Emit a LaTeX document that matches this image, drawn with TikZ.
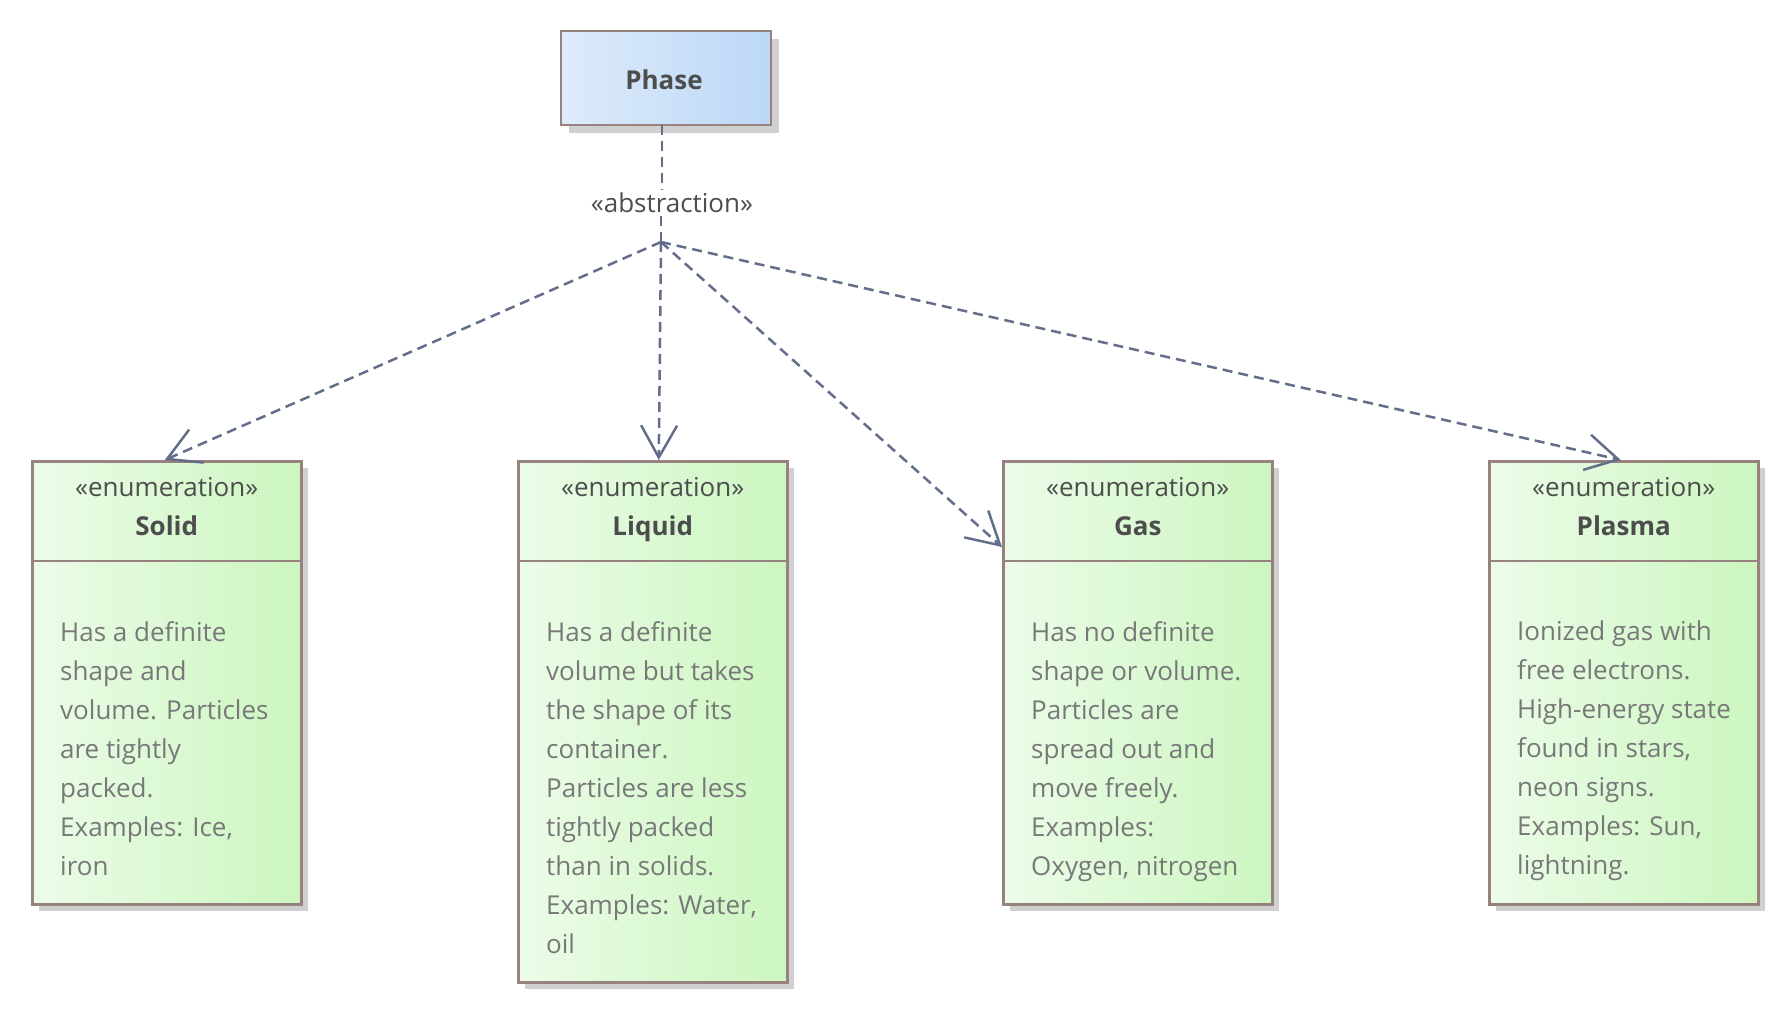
\documentclass[tikz,border=0pt]{standalone}
\usepackage{fontspec}
\setmainfont{Open Sans}
\usetikzlibrary{arrows.meta,calc}
\definecolor{edgec}{RGB}{152,130,128}
\definecolor{linec}{RGB}{100,110,138}
\definecolor{shadowc}{RGB}{208,208,208}
\definecolor{gleft}{RGB}{236,252,232}
\definecolor{gright}{RGB}{204,246,192}
\definecolor{bleft}{RGB}{222,235,251}
\definecolor{bright}{RGB}{188,216,246}
\definecolor{hdtext}{RGB}{77,77,77}
\definecolor{bodytext}{RGB}{120,120,120}
\tikzset{
  shadowbox/.style={fill=shadowc, draw=none},
  enumbox/.style={draw=edgec, line width=2.5pt, left color=gleft, right color=gright, minimum width=269pt, inner sep=0pt, anchor=north west},
  phasebox/.style={draw=edgec, line width=2.5pt, left color=bleft, right color=bright, minimum width=210pt, minimum height=94pt, inner sep=0pt},
  phasetxt/.style={font=\fontsize{26}{30}\selectfont\bfseries, text=hdtext, inner sep=0pt},
  hdline/.style={font=\fontsize{26}{39}\selectfont, text=hdtext, inner sep=0pt, align=center},
  bodytxt/.style={font=\fontsize{26}{39}\selectfont, text=bodytext, inner sep=0pt, align=left, anchor=north west},
  depline/.style={draw=linec, line width=2.5pt, dash pattern=on 10pt off 6pt},
  deparrow/.style={depline, -{Straight Barb[length=32pt,width=36pt,line width=2.5pt]}}
}
\begin{document}
\begin{tikzpicture}[x=1pt,y=-1pt]
\useasboundingbox (0,0) rectangle (1788,1011);
% Phase
\fill[shadowc] (569,39) rectangle (779,133);
\node[phasebox] (phase) at (666,78) {};
\node[phasetxt] (phaset) at (664,80) {Phase};
\node[font=\fontsize{26}{30}\selectfont, text=hdtext, inner sep=3pt] (abs) at (672,203) {«abstraction»};
\coordinate (hub) at (661,242);
\coordinate (pbot) at (662,125);
% boxes
\foreach \nm/\x/\h in {solid/31/443, liquid/517/521, gas/1002/443, plasma/1488/443}{
  \fill[shadowc] (\x+8,468) rectangle (\x+277,460+\h+8);
  \node[enumbox, minimum height=\h pt] (\nm) at (\x,460) {};
  \draw[edgec, line width=2.5pt] (\x,561) -- (\x+269,561);
}
% headers
\node[hdline] (solidh) at ($(solid.north)+(0,50)$) {«enumeration»\\\textbf{Solid\vphantom{q}}};
\node[hdline] (liquidh) at ($(liquid.north)+(0,50)$) {«enumeration»\\\textbf{Liquid}};
\node[hdline] (gash) at ($(gas.north)+(0,50)$) {«enumeration»\\\textbf{Gas\vphantom{q}}};
\node[hdline] (plasmah) at ($(plasma.north)+(0,50)$) {«enumeration»\\\textbf{Plasma\vphantom{q}}};
% bodies
\node[bodytxt] (solidb) at (60,621) {Has a definite\\shape and\\volume. Particles\\are tightly\\packed.\\Examples: Ice,\\iron};
\node[bodytxt] (liquidb) at (546,621) {Has a definite\\volume but takes\\the shape of its\\container.\\Particles are less\\tightly packed\\than in solids.\\Examples: Water,\\oil};
\node[bodytxt] (gasb) at (1031,621) {Has no definite\\shape or volume.\\Particles are\\spread out and\\move freely.\\Examples:\\Oxygen, nitrogen};
\node[bodytxt] (plasmab) at (1517,621) {Ionized gas with\\free electrons.\\High-energy state\\found in stars,\\neon signs.\\Examples: Sun,\\lightning.};
% connectors
\draw[depline] (pbot) -- (pbot |- abs.north);
\draw[depline] (hub |- abs.south) -- (hub);
\draw[deparrow] (hub) -- ($(solid.north)+(-2,0)$);
\draw[deparrow] (hub) -- ($(liquid.north)+(6,0)$);
\draw[deparrow] (hub) -- ($(gas.north west)+(0,87)$);
\draw[deparrow] (hub) -- ($(plasma.north)+(-3,0)$);
\end{tikzpicture}
\end{document}
